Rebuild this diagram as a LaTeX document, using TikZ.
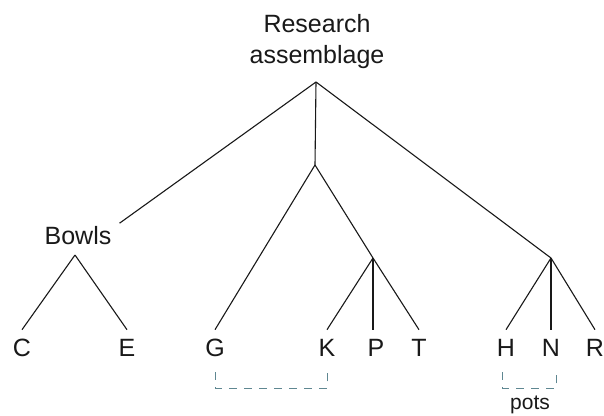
\documentclass[tikz,border=0pt]{standalone}
\usepackage{fontspec}
\setmainfont{Liberation Sans}
\definecolor{ink}{RGB}{25,25,25}
\definecolor{dashc}{RGB}{95,135,145}
\begin{document}
\begin{tikzpicture}[x=1pt,y=-1pt,
  lbl/.style={font=\fontsize{25}{30}\selectfont, text=ink, inner xsep=0pt, inner ysep=9.5pt, text height=17.2pt, text depth=0pt},
  edge/.style={draw=ink, line width=1.1pt},
  potsline/.style={draw=dashc, line width=1pt, dash pattern=on 8pt off 7pt}
]
\useasboundingbox (0,0) rectangle (604,415);
\fill[white] (0,0) rectangle (604,415);
% root
\node[font=\fontsize{25}{31}\selectfont, text=ink, align=center, inner sep=0pt] (root) at (317,41.5) {Research\\assemblage};
\coordinate (a) at (316,82);
% bowls
\node[font=\fontsize{25}{30}\selectfont, text=ink, inner xsep=8pt, inner ysep=4pt, text height=17.2pt, text depth=0pt] (bowls) at (78,236) {Bowls};
\coordinate (bj) at (75,255);
\coordinate (mj) at (315,165);
\coordinate (mj2) at (373,258);
\coordinate (rj) at (551,258);
% leaves
\node[lbl] (C) at (22,348) {C};
\node[lbl] (E) at (127,348) {E};
\node[lbl] (G) at (215,348) {G};
\node[lbl] (K) at (327,348) {K};
\node[lbl] (P) at (376,348) {P};
\node[lbl] (T) at (419,348) {T};
\node[lbl] (H) at (506,348) {H};
\node[lbl] (N) at (551,348) {N};
\node[lbl] (R) at (595,348) {R};
\node[font=\fontsize{21}{25}\selectfont, text=ink, inner sep=0pt, anchor=base] (pots) at (530,409) {pots};
% edges
\draw[edge] (a) -- (bowls.north east);
\draw[edge] (a) -- (mj);
\draw[edge] (a) -- (rj);
\draw[edge] (bj) -- (C.north);
\draw[edge] (bj) -- (E.north);
\draw[edge] (mj) -- (G.north);
\draw[edge] (mj) -- (mj2);
\draw[edge] (mj2) -- (K.north);
\draw[edge] (mj2) -- (mj2 |- P.north);
\draw[edge] (mj2) -- (T.north);
\draw[edge] (rj) -- (H.north);
\draw[edge] (rj) -- (N.north);
\draw[edge] (rj) -- (R.north);
% dashed groupings
\draw[potsline] ([yshift=-6pt]G.south) -- ([yshift=-22pt]G.south) -| ([yshift=-6pt]K.south);
\draw[potsline] ([xshift=-4pt,yshift=-6pt]H.south) -- ([xshift=-4pt,yshift=-22pt]H.south) -| ([xshift=5pt,yshift=-6pt]N.south);
\end{tikzpicture}
\end{document}
